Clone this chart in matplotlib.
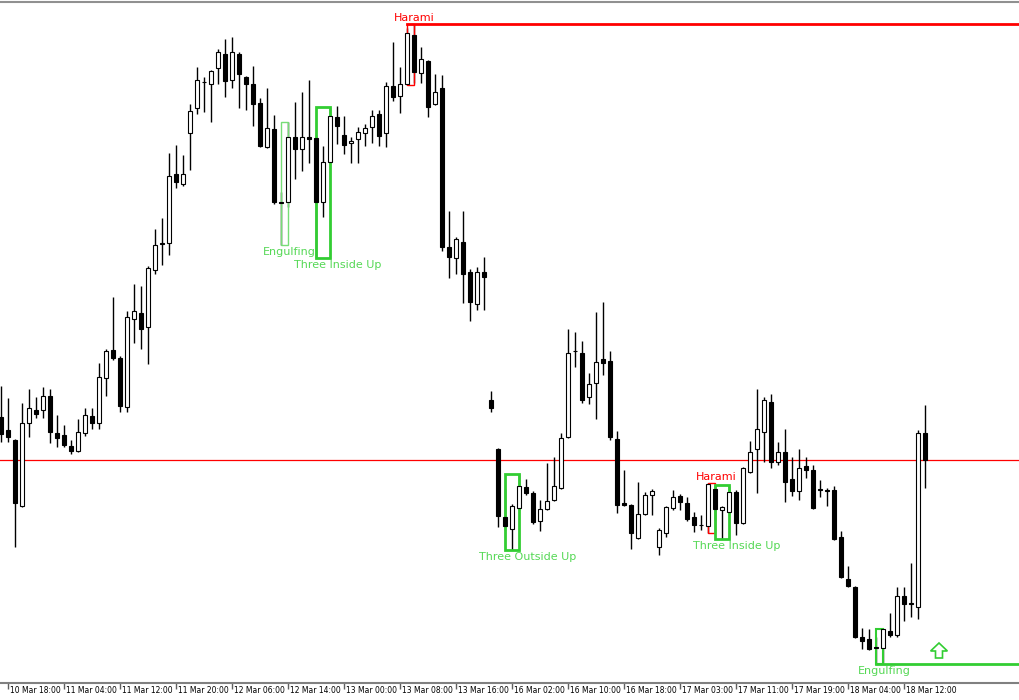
import matplotlib
matplotlib.use('Agg')
import matplotlib.pyplot as plt
from matplotlib.patches import Rectangle

# Свечи (H1), цены в условных пунктах
opens = [283, 270, 260, 194, 277, 290, 290, 304, 267, 265,
         254, 249, 267, 284, 277, 322, 350, 342, 293, 381,
         387, 373, 430, 457, 457, 526, 516, 567, 592, 618,
         616, 632, 646, 620, 646, 623, 616, 597, 553, 571,
         498.5, 498, 563, 551, 563, 562, 498, 538, 583, 565,
         557, 561, 567, 573, 586, 567, 614, 604, 616, 665,
         627, 639, 596, 612, 453, 442, 458, 428, 396, 428,
         300, 251, 183, 171, 192, 213, 207, 179, 191, 200,
         212, 263, 349, 347, 303, 317, 341, 339, 261, 197,
         195, 162, 186, 205, 153, 167, 192, 204, 197, 183,
         175.5, 174, 211, 190, 188, 208, 177, 228, 251, 268,
         298, 238, 248, 221, 209, 234, 230, 211, 210, 210,
         163, 121, 113, 63, 61, 53, 52, 69, 65, 104,
         97, 93, 267]
highs = [314, 302, 261, 297, 311, 303, 313, 311, 285, 275,
         260, 281, 292, 292, 337, 351, 403, 344, 389, 416,
         414, 434, 471, 482, 547, 555, 545, 596, 633, 623,
         630, 651, 661, 663, 648, 624, 634, 602, 612, 585,
         508, 578, 598, 608, 620, 565, 554, 593, 594, 584,
         563, 573, 576, 590, 590, 618, 658, 633, 672, 676,
         653, 640, 626, 625, 489, 463, 489, 431, 433, 443,
         309, 252, 211, 196, 226, 221, 209, 200, 237, 243,
         267, 371, 368, 359, 327, 388, 398, 349, 269, 230,
         196, 218, 208, 211, 172, 194, 210, 206, 203, 188,
         185, 217, 215, 194, 214, 210, 233, 259, 311, 303,
         306, 258, 271, 243, 251, 243, 235, 220, 212, 214,
         169, 134, 114, 72, 71, 63, 71, 87, 113, 113,
         137, 270, 295]
lows = [258, 258, 153, 193, 263, 282, 282, 257, 253, 253,
        246, 248, 264, 271, 271, 304, 340, 288, 288, 357,
        351, 336, 426, 435, 445, 512, 514, 530, 586, 588,
        578, 616, 603, 612, 592, 590, 574, 553, 552, 496,
        455, 493, 521, 529, 537, 442, 483, 537, 556, 546,
        537, 537, 554, 557, 554, 553, 599, 587, 615, 617,
        617, 583, 595, 449, 422, 426, 397, 379, 390, 390,
        288, 173, 170, 150, 190, 205, 176, 169, 190, 199,
        211, 262, 333, 297, 296, 281, 325, 260, 187, 194,
        151, 161, 185, 185, 145, 163, 190, 190, 179, 168,
        170, 167, 180, 161, 187, 165, 176, 227, 207, 238,
        232, 235, 198, 204, 200, 222, 191, 203, 194, 160,
        122, 113, 62, 51, 50, 36, 37, 63, 63, 79,
        83, 81, 212]
closes = [266, 263, 197, 277, 292, 286, 304, 268, 262, 255,
          249, 268, 285, 277, 323, 349, 342, 294, 383, 389,
          371, 432, 455, 456.5, 524, 518, 526, 589, 620, 618.5,
          629, 648, 619, 648, 626, 616, 596, 554, 572, 498,
          497.5, 563, 551, 563, 561, 498, 538, 584, 574, 555,
          559, 568, 572, 584, 564, 614, 603, 616, 667, 628,
          641, 593, 608, 453, 443, 461, 426, 398, 428, 423,
          292, 184, 174, 194, 214, 207, 178, 191, 199, 214,
          262, 347, 349.5, 300, 316, 338, 337, 263, 195, 195,
          167, 186, 205, 209, 170, 193, 203, 198, 181, 175,
          175, 216, 191, 193, 208, 177, 232, 248, 271, 300,
          238, 248, 218, 209, 232, 230, 192, 210.5, 209.5, 161,
          123, 114, 63, 59, 51, 52.5, 71, 65, 104, 96,
          96.5, 267, 240]

tick_pos = [1, 9, 17, 25, 33, 41, 49, 57, 65, 73, 81, 89, 97, 105, 113, 121, 129]
tick_labels = ['10 Mar 18:00', '11 Mar 04:00', '11 Mar 12:00', '11 Mar 20:00',
               '12 Mar 06:00', '12 Mar 14:00', '13 Mar 00:00', '13 Mar 08:00',
               '13 Mar 16:00', '16 Mar 02:00', '16 Mar 10:00', '16 Mar 18:00',
               '17 Mar 03:00', '17 Mar 11:00', '17 Mar 19:00', '18 Mar 04:00',
               '18 Mar 12:00']

# паттерны: имя, первая свеча, последняя свеча, направление
pat_names = ['Engulfing', 'Three Inside Up', 'Harami', 'Three Outside Up',
             'Harami', 'Three Inside Up', 'Engulfing']
pat_start = [40, 45, 58, 72, 101, 102, 125]
pat_end = [41, 47, 59, 74, 102, 104, 126]
pat_bull = [True, True, False, True, False, True, True]
pat_extend = [False, False, True, False, False, False, True]

signal_bar = 134
signal_price = 42

GREEN = '#32cd32'
GREEN_TXT = '#55d855'
RED = '#ff0000'

fig = plt.figure(figsize=(10.2, 7), dpi=100)
ax = fig.add_axes([0, 17 / 700, 1, 681 / 700])

n = len(opens)
for k in range(n):
    o, h, l, c = opens[k], highs[k], lows[k], closes[k]
    ax.vlines(k, l, h, color='black', lw=1, zorder=1)
    bull = c >= o
    ax.add_patch(Rectangle((k - 0.3, min(o, c)), 0.6, abs(c - o),
                           facecolor='white' if bull else 'black',
                           edgecolor='black', lw=0.8, zorder=3))

# линия bid
ax.axhline(closes[-1], color=RED, lw=0.9, zorder=0)

txt_dx = [5, 15, 4, 16, 5, 15, 5]
box_lw = [1, 2, 1, 2, 1, 2, 1.5]
for i in range(len(pat_names)):
    a, b = pat_start[i], pat_end[i]
    top = max(highs[a:b + 1])
    bot = min(lows[a:b + 1])
    col = GREEN if pat_bull[i] else RED
    ec = '#77dd77' if box_lw[i] == 1 and pat_bull[i] else col
    ax.add_patch(Rectangle((a, bot), b - a, top - bot, fill=False,
                           edgecolor=ec, lw=box_lw[i], zorder=2))
    if pat_extend[i]:
        y = bot if pat_bull[i] else top
        ax.plot([a, 150], [y, y], color=col, lw=2, zorder=2)
    cx = (a + b) / 2
    if pat_bull[i]:
        ax.annotate(pat_names[i], (cx, bot), xytext=(txt_dx[i], -2),
                    textcoords='offset pixels', ha='center', va='top',
                    color=GREEN_TXT, fontsize=8)
    else:
        ax.annotate(pat_names[i], (cx, top), xytext=(txt_dx[i], 1),
                    textcoords='offset pixels', ha='center', va='bottom',
                    color=RED, fontsize=8)

# стрелка сигнала
ax.arrow(signal_bar, signal_price, 0, 15, width=1.0, head_width=2.4,
         head_length=8, length_includes_head=True, fill=False,
         edgecolor=GREEN, lw=1.2, zorder=4)

ax.set_xlim(-1 / 7, 1019 / 7)
ax.set_ylim(17, 698)
ax.set_yticks([])
ax.set_xticks(tick_pos)
ax.set_xticklabels([])
ax.tick_params(axis='x', direction='out', length=4, width=1, color='#606060')
for p, lab in zip(tick_pos, tick_labels):
    ax.annotate(lab, (p, 0), xycoords=('data', 'axes fraction'),
                xytext=(2, -3), textcoords='offset pixels',
                ha='left', va='top', fontsize=5.5, color='black')

for s in ['left', 'right']:
    ax.spines[s].set_visible(False)
ax.spines['bottom'].set_color('#808080')
ax.spines['bottom'].set_linewidth(1.5)
ax.spines['top'].set_color('#909090')
ax.spines['top'].set_linewidth(1.5)

fig.savefig('out.png', dpi=100)
